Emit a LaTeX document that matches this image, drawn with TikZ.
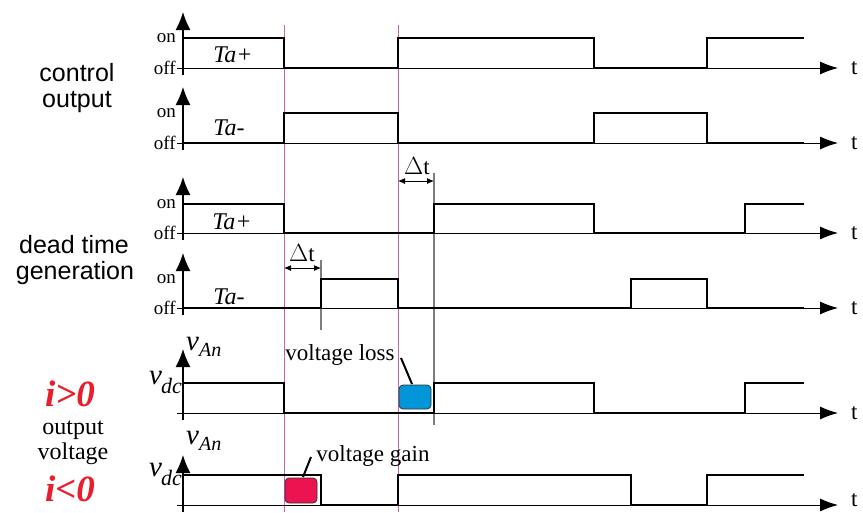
\documentclass[tikz,border=0pt]{standalone}
\usepackage{fontspec}
\setmainfont{Liberation Serif}
\setsansfont{Liberation Sans}
\usetikzlibrary{arrows.meta}
\definecolor{pinkln}{RGB}{200,100,170}
\definecolor{grayln}{RGB}{125,125,125}
\definecolor{redtxt}{RGB}{232,30,45}
\definecolor{bluebox}{RGB}{0,150,215}
\definecolor{redbox}{RGB}{235,20,80}
\newcommand{\fs}[1]{\fontsize{#1}{#1}\selectfont}
\tikzset{
  vaxis/.style={line width=1.3pt,-{Latex[length=18pt,width=15pt]}},
  haxis/.style={line width=0.9pt,-{Latex[length=18pt,width=13pt]}},
  wave/.style={line width=2.5pt,line join=miter,line cap=butt},
  pinkline/.style={pinkln,line width=0.9pt},
  grayline/.style={grayln,line width=1.2pt},
  dtarrow/.style={line width=1pt,{Latex[length=7pt,width=6pt]}-{Latex[length=7pt,width=6pt]}},
  lvl/.style={font=\fs{19},anchor=east,inner sep=1pt},
  tlab/.style={font=\fs{23},anchor=west,inner sep=0pt},
  talab/.style={font=\fs{24}\itshape,inner sep=0pt},
  sidesans/.style={font=\sffamily\fs{25},inner sep=0pt},
  sideserif/.style={font=\fs{24},inner sep=0pt},
  redlab/.style={font=\bfseries\itshape\fs{37},text=redtxt,inner sep=0pt},
  annot/.style={font=\fs{23},inner sep=0pt},
  leader/.style={line width=2pt},
  tick/.style={line width=0.9pt}
}
\begin{document}
\begin{tikzpicture}[x=1pt,y=-1pt]
\useasboundingbox (0,0) rectangle (863,512);
% pink reference lines
\draw[pinkline] (284,25) -- (284,512);
\draw[pinkline] (398,25) -- (398,512);
% gray dead-time lines
\draw[grayline] (321,260) -- (321,330);
\draw[grayline] (434,173) -- (434,425);
% axes
\foreach \off/\tip/\bot/\tl/\nm in {68/12/75/68/a,143/87/150/143/b,233/177/240/233/c,308/253/315/308/d,413/349/420/413/e,505/455/512/500/f}{
  \coordinate (tip\nm) at (183,\tip);
  \coordinate (bot\nm) at (183,\bot);
  \coordinate (he\nm) at (838,\off);
  \coordinate (tk\nm) at (177,\off);
  \draw[vaxis] (bot\nm) -- (tip\nm);
  \draw[haxis] (tk\nm) -- (he\nm);
  \node[tlab] (t\nm) at (851,\tl) {t};
}
% on / off labels
\foreach \on/\off/\nm in {38/68/a,113/143/b,204/233/c,279/308/d}{
  \node[lvl] (on\nm) at (177,\on) {on};
  \node[lvl] (off\nm) at (177,\off) {off};
}
% waveforms
\draw[wave] (183,38)--(284,38)--(284,68)--(398,68)--(398,38)--(594,38)--(594,68)--(707,68)--(707,38)--(804,38);
\draw[wave] (183,143)--(284,143)--(284,113)--(398,113)--(398,143)--(594,143)--(594,113)--(707,113)--(707,143)--(804,143);
\draw[wave] (183,204)--(284,204)--(284,233)--(434,233)--(434,204)--(594,204)--(594,233)--(745,233)--(745,204)--(804,204);
\draw[wave] (183,308)--(321,308)--(321,279)--(398,279)--(398,308)--(631,308)--(631,279)--(707,279)--(707,308)--(804,308);
\draw[wave] (183,383)--(284,383)--(284,413)--(434,413)--(434,383)--(594,383)--(594,413)--(745,413)--(745,383)--(804,383);
\draw[wave] (183,475)--(321,475)--(321,505)--(398,505)--(398,475)--(631,475)--(631,505)--(707,505)--(707,475)--(804,475);
% Ta labels
\node[talab] (ta1) at (233,55) {Ta+};
\node[talab] (ta2) at (229,128) {Ta-};
\node[talab] (ta3) at (232,222) {Ta+};
\node[talab] (ta4) at (229,297) {Ta-};
% delta t
\coordinate (d1a) at (284,268); \coordinate (d1b) at (321,268);
\draw[dtarrow] (d1a) -- (d1b);
\node[annot] (dt1) at (302,253) {$\Delta$t};
\coordinate (d2a) at (398,181); \coordinate (d2b) at (434,181);
\draw[dtarrow] (d2a) -- (d2b);
\node[annot] (dt2) at (417,166) {$\Delta$t};
% v labels
\foreach \vb/\db/\nm in {350/384/e,444/476/f}{
  \node[anchor=base west,inner sep=0pt] (van\nm) at (186,\vb) {\fs{29}\itshape v\raisebox{-6pt}{\fs{20}\itshape An}};
  \node[anchor=base east,inner sep=0pt] (vdc\nm) at (182,\db) {\fs{29}\itshape v\kern-1pt\raisebox{-9pt}{\fs{22}\itshape dc}};
}
% boxes
\draw[draw=black!80,fill=bluebox,rounded corners=4pt,line width=0.8pt] (399,385) rectangle (431,409);
\coordinate (bx1) at (412,384);
\node[annot] (loss) at (340,355) {voltage loss};
\draw[leader] (401,358) -- (bx1);
\draw[draw=black!80,fill=redbox,rounded corners=4pt,line width=0.8pt] (285,478) rectangle (317,503);
\coordinate (bx2) at (303,477);
\node[annot] (gain) at (373,456) {voltage gain};
\draw[leader] (311,457) -- (bx2);
% side labels
\node[sidesans] (ctrl1) at (77,73) {control};
\node[sidesans] (ctrl2) at (77,102) {output};
\node[sidesans] (dead1) at (74,245) {dead time};
\node[sidesans] (dead2) at (75,273) {generation};
\node[redlab] (ipos) at (70,394) {i>0};
\node[sideserif] (outv1) at (73,430) {output};
\node[sideserif] (outv2) at (73,454) {voltage};
\node[redlab] (ineg) at (70,489) {i<0};
\end{tikzpicture}
\end{document}
